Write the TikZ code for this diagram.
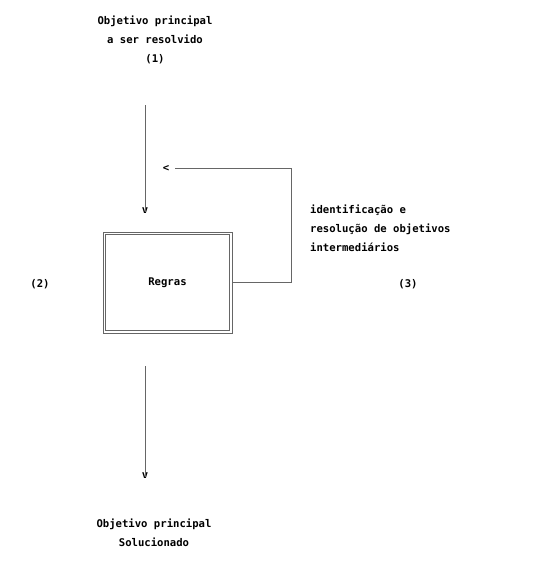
\documentclass[tikz,border=0pt]{standalone}
\usepackage{fontspec}
\setmonofont{DejaVu Sans Mono}
\begin{document}
\begin{tikzpicture}[x=1pt,y=-1pt,
  txt/.style={font=\ttfamily\bfseries\fontsize{10.6}{19}\selectfont, inner sep=0pt, text=black},
  wire/.style={draw=black!60, line width=0.7pt},
  rulebox/.style={draw=black!60, line width=0.7pt, minimum width=129pt, minimum height=101pt, inner sep=0pt}]
  \useasboundingbox (0,0) rectangle (558,584);

  % goal to be solved
  \node[txt, align=center] (goal) at (155,40) {Objetivo principal\\a ser resolvido\\(1)};
  \node[txt] (vtop) at (145,211) {v};
  \coordinate (topstart) at (145,105);
  \draw[wire] (topstart) -- ([yshift=-4pt]vtop.north);

  % rule base (double frame)
  \node[rulebox] (rules) at (167.5,282.5) {};
  \draw[wire] ([shift={(3pt,-3pt)}]rules.north west) rectangle ([shift={(-3pt,3pt)}]rules.south east);
  \node[txt] (rlabel) at (rules.center) {Regras};
  \node[txt] (two) at (40,284) {(2)};

  % feedback loop: intermediate goals
  \node[txt] (back) at (166,168) {<};
  \coordinate (corner) at (291,168);
  \draw[wire] (rules.east) -| (corner) -- ([xshift=6pt]back.east);
  \node[txt, align=left, anchor=north west] (loop) at (310,205) {identificação e\\resolução de objetivos\\intermediários};
  \node[txt] (three) at (408,284) {(3)};

  % solved goal
  \coordinate (botstart) at (145,366);
  \node[txt] (vbot) at (145,476) {v};
  \draw[wire] (botstart) -- ([yshift=-4pt]vbot.north);
  \node[txt, align=center] (solved) at (154,533) {Objetivo principal\\Solucionado};
\end{tikzpicture}
\end{document}
